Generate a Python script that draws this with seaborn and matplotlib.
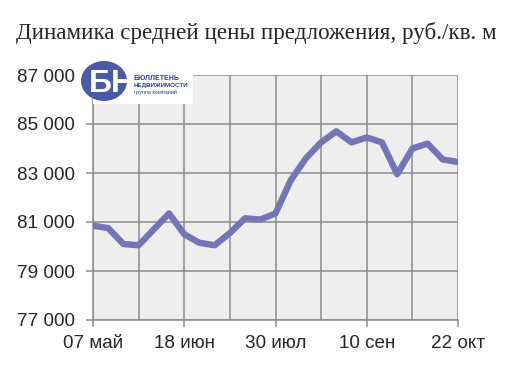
import numpy as np
import pandas as pd
import matplotlib
matplotlib.use("Agg")
import matplotlib.pyplot as plt
from matplotlib.patches import Ellipse, Rectangle
import seaborn as sns

# weekly points, 07 May .. 22 Oct
weeks = list(range(25))
prices = [80850, 80750, 80100, 80050, 80700, 81350, 80500, 80150, 80050, 80550,
          81150, 81100, 81350, 82700, 83600, 84250, 84700, 84250, 84450, 84250,
          82950, 84000, 84200, 83550, 83450]
tick_pos = [0, 6, 12, 18, 24]
tick_labels = ["07 май", "18 июн", "30 июл", "10 сен", "22 окт"]
y_ticks = [77000, 79000, 81000, 83000, 85000, 87000]

title = "Динамика средней цены предложения, руб./кв. м"

sns.set_style("white")
plt.rcParams['font.family'] = ['Liberation Sans', 'DejaVu Sans']

df = pd.DataFrame({"week": weeks, "price": prices})

fig = plt.figure(figsize=(5.12, 3.68), dpi=100)
ax = fig.add_axes([93 / 512, 1 - 320 / 368, 365 / 512, 245 / 368])
ax.set_facecolor("#eeeeee")

sns.lineplot(data=df, x="week", y="price", ax=ax, color="#7474b6",
             linewidth=4.6, solid_capstyle="round", solid_joinstyle="round",
             zorder=5)

ax.set_xlim(0, 24)
ax.set_ylim(77000, 87000)
ax.set_xticks(tick_pos)
ax.set_xticklabels(tick_labels)
ax.set_xticks([3, 9, 15, 21], minor=True)
ax.set_yticks(y_ticks)
ax.set_yticklabels([f"{v:,}".replace(",", " ") for v in y_ticks])
ax.set_xlabel("")
ax.set_ylabel("")

grid_c = "#8c8c8c"
ax.grid(True, which="both", color=grid_c, linewidth=1.1)
for s in ["top", "right"]:
    ax.spines[s].set_visible(False)
for s in ["left", "bottom"]:
    ax.spines[s].set_color(grid_c)
    ax.spines[s].set_linewidth(1.1)

ax.tick_params(axis="x", which="major", length=5, width=1.1, color=grid_c,
               labelsize=13.6, pad=6, direction="out", bottom=True)
ax.tick_params(axis="x", which="minor", length=0)
ax.tick_params(axis="y", length=5, width=1.1, color=grid_c,
               labelsize=13.6, pad=8, direction="out", left=True)

fig.text(0.5, 1 - 33 / 368, title, ha="center", va="center",
         fontsize=16.6, family=["Liberation Serif", "DejaVu Serif"])

# logo overlay, pixel coordinates
ov = fig.add_axes([0, 0, 1, 1], zorder=10)
ov.set_xlim(0, 512)
ov.set_ylim(368, 0)
ov.axis("off")
ov.add_patch(Rectangle((93, 62), 100, 42, facecolor="white", edgecolor="none"))
ov.add_patch(Ellipse((104, 81), 46, 40, facecolor="#4a5aa8", edgecolor="none"))
ov.text(112, 84, "БН", color="white", fontsize=23, fontweight="bold",
        ha="center", va="center")
ov.text(134, 78, "БЮЛЛЕТЕНЬ", color="#2f3f8f", fontsize=5.0,
        fontweight="bold", ha="left", va="center")
ov.text(134, 85, "НЕДВИЖИМОСТИ", color="#2f3f8f", fontsize=4.5,
        fontweight="bold", ha="left", va="center")
ov.text(134, 92, "группа компаний", color="#2f3f8f", fontsize=4.0,
        ha="left", va="center")

fig.savefig("out.png", dpi=100, facecolor="white")
